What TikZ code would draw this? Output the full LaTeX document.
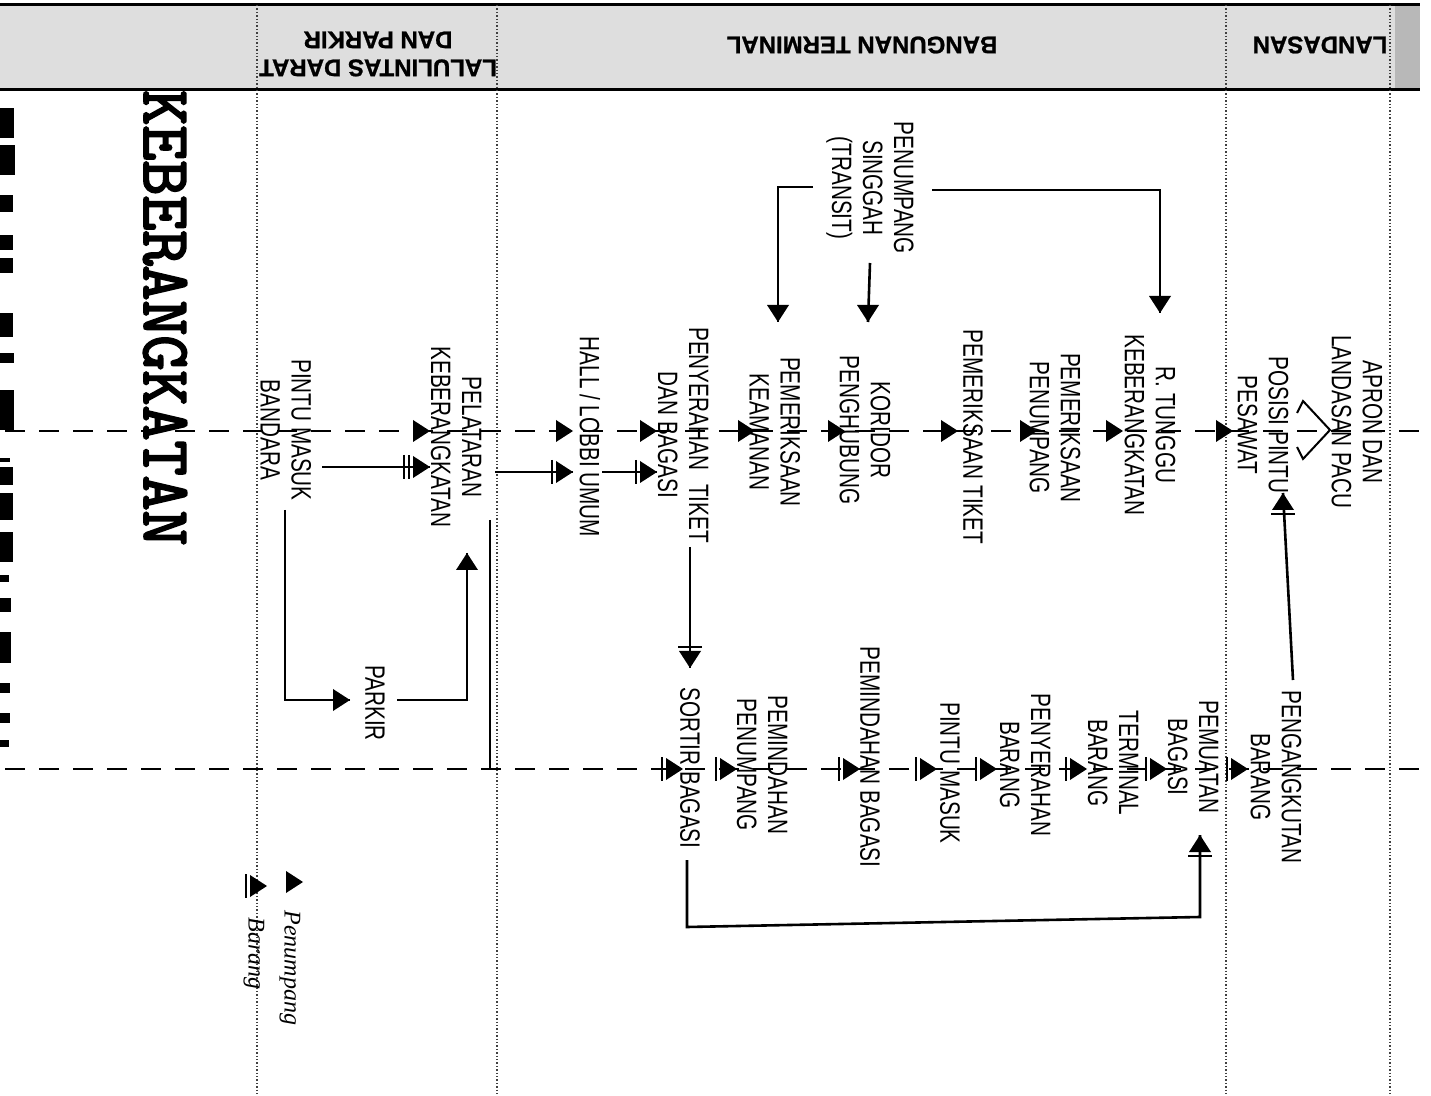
\documentclass[tikz,border=0pt]{standalone}
\usepackage{fontspec}
\setmainfont{Liberation Sans}[FakeStretch=0.74]
\newfontfamily\hdrfont{Liberation Sans}[FakeBold=1]
\newfontfamily\titlefont{Latin Modern Mono}[FakeBold=3]
\newfontfamily\handfont{Liberation Serif}
\usetikzlibrary{arrows.meta}
\tikzset{
  ptri/.pic={\fill (0,0) -- (-17,-11) -- (-17,11) -- cycle;},
  btri/.pic={\fill (0,0) -- (-17,-11) -- (-17,11) -- cycle;
             \draw[line width=1.3pt] (-21,-12) -- (-21,12);},
}
\begin{document}
\begin{tikzpicture}[x=0.5pt,y=-0.5pt,
  lbl/.style={rotate=-90, align=center, inner sep=0pt, font=\fontsize{14pt}{15.5pt}\selectfont},
  hdr/.style={rotate=180, align=center, inner sep=0pt, font=\hdrfont\bfseries\fontsize{12pt}{14pt}\selectfont},
  flowline/.style={dash pattern=on 10pt off 7pt, line width=1.4pt},
  solidln/.style={line width=1.3pt},
  divider/.style={densely dotted, line width=0.7pt, black!75},
  hand/.style={rotate=-90, inner sep=0pt, font=\handfont\itshape\fontsize{12pt}{14pt}\selectfont},
]
\useasboundingbox (0,0) rectangle (1431,1096);
\fill[white] (0,0) rectangle (1431,1096);

% header band
\fill[black!13] (0,5) rectangle (1420,90);
\fill[black!28] (1395,5) rectangle (1420,90);
\draw[line width=1.5pt] (0,5) -- (1420,5);
\draw[line width=1.5pt] (0,90) -- (1420,90);
\node[hdr] (h1) at (378,54) {LALULINTAS DARAT\\DAN PARKIR};
\node[hdr] (h2) at (862,45) {BANGUNAN TERMINAL};
\node[hdr] (h3) at (1320,45) {LANDASAN};

% dividers
\draw[divider] (257,5) -- (257,1096);
\draw[divider] (497,5) -- (497,1096);
\draw[divider] (1226,5) -- (1226,1096);
\draw[divider] (1390,5) -- (1390,1096);

% cut-off title fragments at left edge
\foreach \ya/\yb/\w in {108/138/14,145/175/15,195/212/13,235/250/13,258/273/13,313/337/13,353/363/14,390/430/14,458/462/10,467/485/13,493/520/13,532/562/13,575/582/9,598/612/11,632/663/11,683/693/10,713/723/10,740/747/9}
  \fill (0,\ya) rectangle (\w,\yb);

% title
\node[rotate=-90, inner sep=0pt, font=\titlefont\fontsize{34pt}{36pt}\selectfont] (title) at (165,318) {KEBERANGKATAN};

% flow lines
\coordinate (pl0) at (5,431);
\coordinate (pl1) at (1431,431);
\coordinate (bl0) at (5,769);
\coordinate (bl1) at (1431,769);
\draw[flowline] (pl0) -- (pl1);
\draw[flowline] (bl0) -- (bl1);

% nodes - passenger line
\node[lbl] (pintu) at (286,430) {PINTU MASUK\\BANDARA};
\node[lbl] (pelataran) at (456,437) {PELATARAN\\KEBERANGKATAN};
\node[lbl] (parkir) at (375,703) {PARKIR};
\node[lbl] (hall) at (590,437) {HALL / LOBBI UMUM};
\node[lbl] (penyerahan) at (683,435) {PENYERAHAN\enspace TIKET\\DAN BAGASI};
\node[lbl] (keamanan) at (775,432) {PEMERIKSAAN\\KEAMANAN};
\node[lbl] (koridor) at (865,430) {KORIDOR\\PENGHUBUNG};
\node[lbl] (tiket) at (973,437) {PEMERIKSAAN TIKET};
\node[lbl] (periksapnp) at (1055,428) {PEMERIKSAAN\\PENUMPANG};
\node[lbl] (tunggu) at (1150,425) {R. TUNGGU\\KEBERANGKATAN};
\node[lbl] (posisi) at (1263,425) {POSISI PINTU\\PESAWAT};
\node[lbl] (apron) at (1357,422) {APRON DAN\\LANDASAN PACU};
\node[lbl] (transit) at (870,188) {PENUMPANG\\SINGGAH\\(TRANSIT)};

% nodes - goods line
\node[lbl] (sortir) at (690,768) {SORTIR BAGASI};
\node[lbl] (pindahpnp) at (762,765) {PEMINDAHAN\\PENUMPANG};
\node[lbl] (pindahbag) at (870,757) {PEMINDAHAN BAGASI};
\node[lbl] (pintu2) at (950,773) {PINTU MASUK};
\node[lbl] (serahbrg) at (1025,765) {PENYERAHAN\\BARANG};
\node[lbl] (terminal) at (1113,763) {TERMINAL\\BARANG};
\node[lbl] (pemuatan) at (1193,757) {PEMUATAN\\BAGASI};
\node[lbl] (angkut) at (1276,777) {PENGANGKUTAN\\BARANG};

% arrowheads on passenger flow line
\foreach \x in {430,573,657,755,845,958,1037,1123,1233}
  \pic at (\x,431) {ptri};
% open arrow at apron
\draw[line width=1pt, line join=miter] (1297,413) -- (1303,401) -- (1330,430) -- (1303,459) -- (1297,447);

% arrowheads on goods flow line
\foreach \x in {683,737,860,937,997,1087,1167,1248}
  \pic at (\x,769) {btri};

% goods connectors upper
\coordinate (g1a) at (322,467);
\coordinate (g1b) at (430,467);
\draw[solidln] (g1a) -- (g1b);
\pic at (g1b) {btri};
\draw[solidln] (404,455) -- (404,479);
\coordinate (g2a) at (495,472);
\coordinate (g2b) at (573,472);
\draw[solidln] (g2a) -- (g2b);
\pic at (g2b) {btri};
\coordinate (g3a) at (602,472);
\coordinate (g3b) at (657,472);
\draw[solidln] (g3a) -- (g3b);
\pic at (g3b) {btri};
\coordinate (g4a) at (490,520);
\coordinate (g4b) at (490,769);
\draw[solidln] (g4a) -- (g4b);

% penyerahan -> sortir
\coordinate (g5a) at (690,547);
\coordinate (g5b) at (690,668);
\draw[solidln] (g5a) -- (g5b);
\pic[rotate=-90] at (g5b) {btri};

% sortir loop -> pemuatan
\coordinate (g6a) at (687,860);
\coordinate (g6b) at (687,927);
\coordinate (g6c) at (1200,917);
\coordinate (g6d) at (1200,835);
\draw[solidln] (g6a) -- (g6b) -- (g6c) -- (g6d);
\pic[rotate=90] at (g6d) {btri};

% pengangkutan -> posisi pintu
\coordinate (g7a) at (1293,680);
\coordinate (g7b) at (1283,493);
\draw[solidln] (g7a) -- (g7b);
\pic[rotate=90] at (g7b) {btri};

% passenger connectors
\coordinate (t1a) at (813,187);
\coordinate (t1b) at (778,187);
\coordinate (t1c) at (778,322);
\draw[solidln] (t1a) -- (t1b) -- (t1c);
\pic[rotate=-90] at (t1c) {ptri};
\coordinate (t2a) at (870,263);
\coordinate (t2b) at (868,322);
\draw[solidln] (t2a) -- (t2b);
\pic[rotate=-90] at (t2b) {ptri};
\coordinate (t3a) at (932,190);
\coordinate (t3b) at (1160,190);
\coordinate (t3c) at (1160,313);
\draw[solidln] (t3a) -- (t3b) -- (t3c);
\pic[rotate=-90] at (t3c) {ptri};

\coordinate (p1a) at (285,510);
\coordinate (p1b) at (285,700);
\coordinate (p1c) at (350,700);
\draw[solidln] (p1a) -- (p1b) -- (p1c);
\pic at (p1c) {ptri};
\coordinate (p2a) at (397,700);
\coordinate (p2b) at (467,700);
\coordinate (p2c) at (467,553);
\draw[solidln] (p2a) -- (p2b) -- (p2c);
\pic[rotate=90] at (p2c) {ptri};

% legend
\pic at (303,882) {ptri};
\node[hand, anchor=west] (lgp) at (290,910) {Penumpang};
\pic at (267,886) {btri};
\node[hand, anchor=west] (lgb) at (254,917) {Barang};
\end{tikzpicture}
\end{document}
